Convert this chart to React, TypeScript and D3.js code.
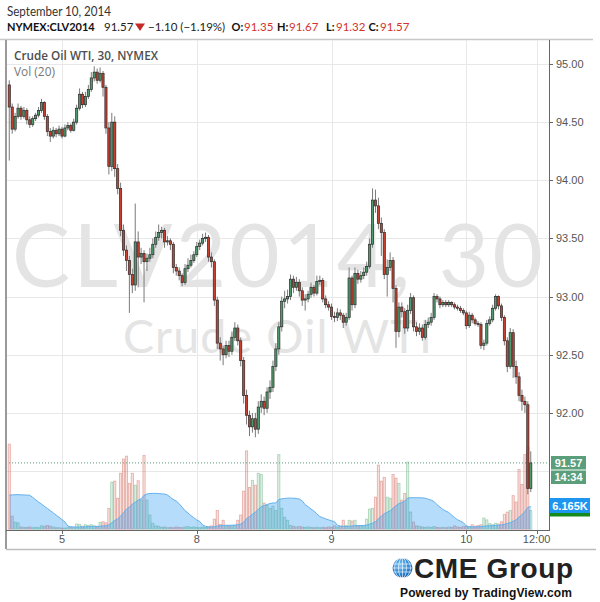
import React from 'react';
import * as d3 from 'd3';

// ---------- DATA ----------
const firstOpen = 94.82;
const closes = [
  94.63, 94.44, 94.55, 94.62, 94.55, 94.60, 94.52, 94.48, 94.53, 94.56,
  94.60, 94.67, 94.55, 94.42, 94.38, 94.43, 94.40, 94.44, 94.38, 94.45,
  94.47, 94.43, 94.50, 94.62, 94.74, 94.65, 94.72, 94.78, 94.88, 94.93,
  94.86, 94.92, 94.80, 94.45, 94.12, 94.50, 94.10, 93.93, 93.57, 93.40,
  93.31, 93.19, 93.10, 93.47, 93.34, 93.37, 93.30, 93.33, 93.36, 93.45,
  93.51, 93.55, 93.57, 93.47, 93.48, 93.45, 93.25, 93.22, 93.18, 93.12,
  93.24, 93.27, 93.31, 93.36, 93.43, 93.46, 93.50, 93.51, 93.34, 93.30,
  92.97, 92.60, 92.55, 92.50, 92.58, 92.53, 92.65, 92.73, 92.62, 92.45,
  92.15, 91.98, 91.88, 91.95, 91.86, 92.05, 92.10, 92.04, 92.18, 92.22,
  92.40, 92.55, 92.74, 92.96, 92.98, 93.00, 93.15, 93.08, 93.12, 93.05,
  92.97, 92.98, 93.02, 93.08, 93.03, 93.13, 93.14, 92.98, 92.93, 92.91,
  92.83, 92.82, 92.86, 92.84, 92.78, 92.82, 93.16, 92.93, 93.20, 93.15,
  93.18, 93.21, 93.26, 93.45, 93.83, 93.78, 93.63, 93.55, 93.19, 93.25,
  93.31, 93.07, 92.70, 92.91, 92.87, 92.73, 92.88, 92.99, 92.74, 92.70,
  92.73, 92.65, 92.76, 92.78, 92.82, 93.00, 92.98, 92.93, 92.95, 92.93,
  92.95, 92.93, 92.91, 92.90, 92.88, 92.86, 92.75, 92.84, 92.80, 92.77,
  92.76, 92.58, 92.60, 92.77, 92.80, 92.90, 93.00, 92.92, 92.82, 92.62,
  92.40, 92.69, 92.40, 92.31, 92.15, 92.10, 92.07, 91.35, 91.57,
];
const highs = [
  94.86, 94.66, 94.58, 94.66, 94.64, 94.63, 94.62, 94.55, 94.55, 94.58,
  94.63, 94.70, 94.68, 94.57, 94.45, 94.46, 94.45, 94.47, 94.46, 94.48,
  94.50, 94.49, 94.53, 94.65, 94.79, 94.76, 94.76, 94.82, 94.93, 94.98,
  94.96, 94.97, 94.94, 94.82, 94.50, 94.58, 94.55, 94.14, 93.98, 93.62,
  93.44, 93.35, 93.24, 93.80, 93.56, 93.42, 93.40, 93.37, 93.42, 93.50,
  93.56, 93.62, 93.60, 93.59, 93.52, 93.50, 93.47, 93.28, 93.25, 93.20,
  93.28, 93.33, 93.36, 93.39, 93.47, 93.49, 93.54, 93.55, 93.53, 93.38,
  93.32, 93.00, 92.65, 92.58, 92.62, 92.62, 92.70, 92.78, 92.76, 92.65,
  92.48, 92.20, 92.02, 92.00, 92.00, 92.10, 92.16, 92.14, 92.22, 92.28,
  92.45, 92.60, 92.78, 93.00, 93.05, 93.06, 93.19, 93.18, 93.17, 93.15,
  93.08, 93.02, 93.05, 93.12, 93.10, 93.18, 93.18, 93.16, 93.01, 92.96,
  92.94, 92.87, 92.90, 92.89, 92.86, 92.86, 93.25, 93.18, 93.25, 93.23,
  93.22, 93.25, 93.30, 93.50, 93.93, 93.92, 93.85, 93.68, 93.58, 93.32,
  93.38, 93.34, 93.10, 92.95, 92.95, 92.90, 92.93, 93.03, 93.01, 92.78,
  92.77, 92.76, 92.80, 92.82, 92.86, 93.03, 93.02, 93.00, 92.97, 92.97,
  92.97, 92.96, 92.95, 92.93, 92.92, 92.90, 92.88, 92.87, 92.86, 92.82,
  92.79, 92.78, 92.63, 92.80, 92.83, 92.93, 93.02, 93.01, 92.94, 92.84,
  92.65, 92.73, 92.72, 92.45, 92.35, 92.20, 92.14, 92.10, 91.67,
];
const lows = [
  94.17, 94.40, 94.42, 94.53, 94.52, 94.53, 94.48, 94.45, 94.46, 94.51,
  94.54, 94.58, 94.52, 94.38, 94.33, 94.36, 94.37, 94.38, 94.36, 94.37,
  94.43, 94.41, 94.42, 94.48, 94.60, 94.62, 94.63, 94.70, 94.76, 94.85,
  94.83, 94.84, 94.72, 94.40, 94.05, 94.08, 94.03, 93.88, 93.52, 93.35,
  93.22, 92.86, 93.03, 93.05, 93.08, 93.28, 92.95, 93.22, 93.30, 93.33,
  93.42, 93.48, 93.50, 93.42, 93.44, 93.40, 93.20, 93.18, 93.14, 93.09,
  93.10, 93.21, 93.25, 93.29, 93.34, 93.40, 93.44, 93.47, 93.30, 93.25,
  92.92, 92.55, 92.45, 92.41, 92.47, 92.48, 92.50, 92.62, 92.58, 92.40,
  92.08, 91.90, 91.80, 91.83, 91.79, 91.82, 92.00, 91.98, 92.00, 92.12,
  92.18, 92.36, 92.50, 92.70, 92.90, 92.94, 92.97, 93.03, 93.05, 93.00,
  92.92, 92.88, 92.95, 92.99, 93.00, 93.01, 93.10, 92.95, 92.90, 92.88,
  92.80, 92.78, 92.79, 92.80, 92.73, 92.75, 92.80, 92.88, 92.90, 93.11,
  93.12, 93.15, 93.18, 93.24, 93.42, 93.72, 93.58, 93.35, 93.15, 93.00,
  93.22, 92.95, 92.56, 92.65, 92.82, 92.68, 92.70, 92.85, 92.70, 92.66,
  92.67, 92.62, 92.63, 92.73, 92.75, 92.80, 92.95, 92.90, 92.91, 92.91,
  92.91, 92.91, 92.89, 92.88, 92.86, 92.84, 92.72, 92.73, 92.77, 92.75,
  92.74, 92.55, 92.54, 92.58, 92.75, 92.78, 92.88, 92.89, 92.79, 92.58,
  92.35, 92.38, 92.30, 92.25, 92.10, 92.02, 92.00, 91.30, 91.32,
];
// volume in thousands of contracts
const volumes = [
  22.8, 3.5, 1.9, 1.7, 0.6, 0.5, 0.5, 0.6, 0.4, 0.5,
  0.4, 0.9, 0.8, 1.0, 0.8, 0.6, 0.4, 0.4, 0.3, 0.3,
  0.4, 0.5, 0.4, 1.4, 1.3, 0.8, 1.2, 1.0, 1.2, 0.9,
  0.6, 1.8, 2.0, 1.7, 5.6, 12.6, 12.9, 8.3, 15.0, 18.8,
  19.6, 12.3, 15.0, 11.8, 13.0, 7.8, 19.8, 7.8, 3.8, 1.6,
  0.9, 0.8, 0.5, 0.6, 0.4, 0.5, 0.4, 0.6, 0.5, 0.4,
  0.6, 0.7, 0.5, 0.6, 0.5, 0.4, 0.6, 0.5, 0.7, 0.9,
  2.7, 5.0, 1.3, 2.4, 1.0, 0.8, 0.9, 1.0, 2.4, 3.8,
  10.2, 21.0, 11.2, 13.1, 11.8, 15.0, 14.7, 7.0, 6.4, 5.6,
  6.2, 5.0, 20.0, 5.6, 3.2, 2.4, 1.0, 0.8, 0.6, 0.7,
  0.6, 0.5, 0.6, 0.5, 0.4, 0.5, 0.4, 0.5, 0.4, 0.6,
  0.5, 0.9, 0.6, 0.8, 2.4, 1.0, 2.4, 2.2, 2.4, 1.0,
  0.9, 1.0, 2.7, 5.4, 5.6, 8.6, 17.2, 12.9, 13.9, 8.6,
  8.3, 14.7, 13.7, 12.3, 7.8, 9.6, 18.0, 4.6, 1.9, 0.9,
  0.8, 0.6, 0.5, 0.6, 0.5, 0.7, 0.5, 0.4, 0.5, 0.4,
  0.6, 0.5, 0.9, 0.6, 0.5, 0.7, 0.8, 0.6, 1.2, 0.8,
  1.0, 1.2, 3.0, 2.5, 1.5, 1.2, 1.6, 1.4, 2.0, 4.0,
  4.6, 5.0, 9.0, 7.3, 16.0, 12.0, 20.0, 22.0, 5.0,
];
// bars before the visible window (feed the 20-bar volume average)
const prevVolumes = [1.2, 1.4, 1.1, 1.5, 1.3, 1.2, 1.4, 12.0, 13.0, 12.5, 12.0, 13.0, 12.5, 12.0, 13.0, 12.5, 12.0, 13.0, 12.5];

const priceTicks = [95, 94.5, 94, 93.5, 93, 92.5, 92];
const gridPrices = [95, 94.5, 94, 93.5, 93, 92.5, 92, 91.5];
const timeTickIndex = [18, 64, 110, 156, 180];
const timeTickLabels = ['5', '8', '9', '10', '12:00'];

const lastClose = 91.57;
const maLabel = '6.165K';
const countdown = '14:34';

// header pieces: text, x position, style
const headerParts = [
  { t: 'NYMEX:CLV2014', x: 7, kind: 'b' },
  { t: '91.57', x: 104, kind: 'n' },
  { t: '−1.10 (−1.19%)', x: 148, kind: 'n' },
  { t: 'O:', x: 231.5, kind: 'b' },
  { t: '91.35', x: 244, kind: 'r' },
  { t: 'H:', x: 277, kind: 'b' },
  { t: '91.67', x: 289, kind: 'r' },
  { t: 'L:', x: 326, kind: 'b' },
  { t: '91.32', x: 336, kind: 'r' },
  { t: 'C:', x: 368.5, kind: 'b' },
  { t: '91.57', x: 380, kind: 'r' },
];

// ---------- STYLE ----------
const UP = '#4f9a6c';
const DOWN = '#c4402f';
const GRID = '#e8e8e8';
const AXIS_TXT = '#555';
const RED_TXT = '#d0342c';

export default function App() {
  const plotL = 6, plotR = 549, plotT = 40, plotB = 530;
  const x = d3.scaleLinear().domain([18, 156]).range([62, 466.3]);
  const y = d3.scaleLinear().domain([91, 95]).range([529.2, 64]);
  const vy = d3.scaleLinear().domain([0, 25]).range([529.2, 529.2 - 25 * 3.73]);

  const opens = closes.map((c, i) => (i === 0 ? firstOpen : closes[i - 1]));
  const allVol = prevVolumes.concat(volumes);
  const ma = volumes.map((_, i) => d3.mean(allVol.slice(i, i + 20)) as number);

  const maArea = d3
    .area<number>()
    .x((_, i) => x(i))
    .y0(vy(0))
    .y1((d) => vy(d));
  const maLine = d3
    .line<number>()
    .x((_, i) => x(i))
    .y((d) => vy(d));

  const bw = 2.2;
  const font = "'Open Sans', 'DejaVu Sans', sans-serif";
  const lfont = "Lato, 'Open Sans', sans-serif";
  const afont = "'Liberation Sans', Arial, sans-serif";
  const sg = 'spacingAndGlyphs';

  return (
    <svg width={600} height={602} style={{ position: 'absolute', left: 0, top: 0, background: '#fff' }}>
      <defs>
        <clipPath id="plotclip">
          <rect x={plotL + 1} y={plotT} width={plotR - plotL - 1} height={plotB - plotT} />
        </clipPath>
        <radialGradient id="globe" cx="40%" cy="35%" r="70%">
          <stop offset="0%" stopColor="#7cc4f2" />
          <stop offset="60%" stopColor="#2a86d6" />
          <stop offset="100%" stopColor="#0f5aa8" />
        </radialGradient>
      </defs>
      <rect x={0} y={0} width={600} height={602} fill="#fff" />

      {/* header */}
      <text x={7} y={15.5} fontFamily={lfont} fontSize={13.5} fill="#333" textLength={104} lengthAdjust={sg}>September 10, 2014</text>
      {headerParts.map((p, k) => (
        <text
          key={'h' + k}
          x={p.x}
          y={31}
          fontFamily={lfont}
          fontSize={p.kind === 'b' ? 11 : 11.5}
          fontWeight={p.kind === 'b' ? 'bold' : 'normal'}
          fill={p.kind === 'r' ? RED_TXT : p.kind === 'b' ? '#111' : '#222'}
        >
          {p.t}
        </text>
      ))}
      <path d="M135,23.5 L145,23.5 L140,31 Z" fill="#c62828" />
      <line x1={0} x2={593} y1={39.5} y2={39.5} stroke="#c8c8c8" strokeWidth={1.5} />

      {/* grid */}
      <g clipPath="url(#plotclip)">
        {gridPrices.map((p) => (
          <line key={'g' + p} x1={plotL} x2={plotR} y1={Math.round(y(p)) + 0.5} y2={Math.round(y(p)) + 0.5} stroke={GRID} />
        ))}
        {timeTickIndex.map((t) => (
          <line key={'v' + t} x1={Math.round(x(t)) + 0.5} x2={Math.round(x(t)) + 0.5} y1={plotT} y2={plotB} stroke={GRID} />
        ))}
      </g>

      {/* watermark */}
      <text x={12} y={287} fontFamily={lfont} fontSize={87} fill="#e4e4e4" textLength={531}>CLV2014, 30</text>
      <text x={123} y={352.5} fontFamily={lfont} fontSize={46.5} fill="#e4e4e4" textLength={309}>Crude Oil WTI</text>

      {/* legend */}
      <text x={14} y={60} fontFamily={font} fontSize={12.5} fontWeight={600} fill="#4e4e4e" textLength={144} lengthAdjust={sg}>Crude Oil WTI, 30, NYMEX</text>
      <text x={14} y={75.5} fontFamily={font} fontSize={12} fill="#777" textLength={41} lengthAdjust={sg}>Vol (20)</text>

      <g clipPath="url(#plotclip)">
        {/* volume bars */}
        {volumes.map((v, i) => {
          const up = closes[i] >= opens[i];
          const top = vy(v);
          return (
            <rect
              key={'vb' + i}
              x={x(i) - bw / 2}
              y={top}
              width={bw}
              height={vy(0) - top}
              fill={up ? 'rgba(107,180,131,0.22)' : 'rgba(215,84,66,0.18)'}
              stroke={up ? 'rgba(107,180,131,0.55)' : 'rgba(205,90,80,0.45)'}
              strokeWidth={0.8}
            />
          );
        })}
        {/* volume MA */}
        <path d={maArea(ma) || ''} fill="rgba(33,150,243,0.33)" />
        <path d={maLine(ma) || ''} fill="none" stroke="#62b0ee" strokeWidth={1} />

        {/* last price line */}
        <line x1={plotL} x2={plotR} y1={y(lastClose)} y2={y(lastClose)} stroke="#5b9e7a" strokeWidth={1} strokeDasharray="1,2" />

        {/* candles */}
        {closes.map((c, i) => {
          const o = opens[i];
          const up = c >= o;
          const cx = x(i);
          const yt = y(Math.max(o, c));
          const yb = y(Math.min(o, c));
          return (
            <g key={'c' + i}>
              <line x1={cx} x2={cx} y1={y(highs[i])} y2={y(lows[i])} stroke="#7a7a7a" strokeWidth={1} />
              <rect x={cx - bw / 2} y={yt} width={bw} height={Math.max(1, yb - yt)} fill={up ? UP : DOWN} stroke="#2b2b2b" strokeWidth={0.7} />
            </g>
          );
        })}
      </g>

      {/* frame */}
      <line x1={plotL} x2={plotL} y1={plotT} y2={549} stroke="#9a9a9a" strokeWidth={2} />
      <line x1={plotL} x2={plotR} y1={plotB + 0.5} y2={plotB + 0.5} stroke="#666" strokeWidth={1} />
      <line x1={plotR + 0.5} x2={plotR + 0.5} y1={plotT} y2={plotB + 1} stroke="#666" strokeWidth={1} />
      <line x1={plotL} x2={596} y1={549.5} y2={549.5} stroke="#bdbdbd" strokeWidth={1.5} />

      {/* price axis */}
      <g fontFamily={afont} fontSize={11} fill={AXIS_TXT}>
        {priceTicks.map((p) => (
          <g key={'pt' + p}>
            <line x1={plotR + 1} x2={plotR + 4} y1={Math.round(y(p)) + 0.5} y2={Math.round(y(p)) + 0.5} stroke="#666" />
            <text x={556} y={y(p) + 4}>{p.toFixed(2)}</text>
          </g>
        ))}
      </g>

      {/* time axis */}
      <g fontFamily={afont} fontSize={11} fill={AXIS_TXT} textAnchor="middle">
        {timeTickIndex.map((t, k) => (
          <g key={'tt' + t}>
            <line x1={Math.round(x(t)) + 0.5} x2={Math.round(x(t)) + 0.5} y1={plotB + 1} y2={plotB + 4} stroke="#666" />
            <text x={x(t)} y={543}>{timeTickLabels[k]}</text>
          </g>
        ))}
      </g>

      {/* axis labels */}
      <rect x={551} y={456} width={35} height={13.5} fill="#5b9e7a" />
      <text x={568.5} y={466.5} fontFamily={afont} fontSize={11} fontWeight="bold" fill="#fff" textAnchor="middle">{lastClose.toFixed(2)}</text>
      <rect x={551} y={470.5} width={35} height={13.5} fill="#5b9e7a" />
      <text x={568.5} y={481} fontFamily={afont} fontSize={11} fontWeight="bold" fill="#fff" textAnchor="middle">{countdown}</text>
      <rect x={550} y={510} width={40} height={6.5} fill="#168a1a" />
      <rect x={550} y={498} width={40} height={15} fill="#1e96f0" />
      <text x={570} y={509.5} fontFamily={afont} fontSize={11} fontWeight="bold" fill="#fff" textAnchor="middle">{maLabel}</text>

      {/* logo */}
      <g>
        <circle cx={402.5} cy={568} r={10} fill="url(#globe)" />
        <g stroke="rgba(255,255,255,0.8)" strokeWidth={0.8} fill="none">
          <ellipse cx={402.5} cy={568} rx={4} ry={10} />
          <ellipse cx={402.5} cy={568} rx={8} ry={10} />
          <line x1={402.5} x2={402.5} y1={558} y2={578} />
          <line x1={393} x2={412} y1={564} y2={564} />
          <line x1={392.5} x2={412.5} y1={568} y2={568} />
          <line x1={393} x2={412} y1={572} y2={572} />
        </g>
        <text x={414} y={578} fontFamily={afont} fontSize={28} fontWeight="bold" fill="#222" textLength={159}>CME Group</text>
        <text x={400} y={597} fontFamily={afont} fontSize={12} fontWeight="bold" fill="#111" textLength={172}>Powered by TradingView.com</text>
      </g>
    </svg>
  );
}
